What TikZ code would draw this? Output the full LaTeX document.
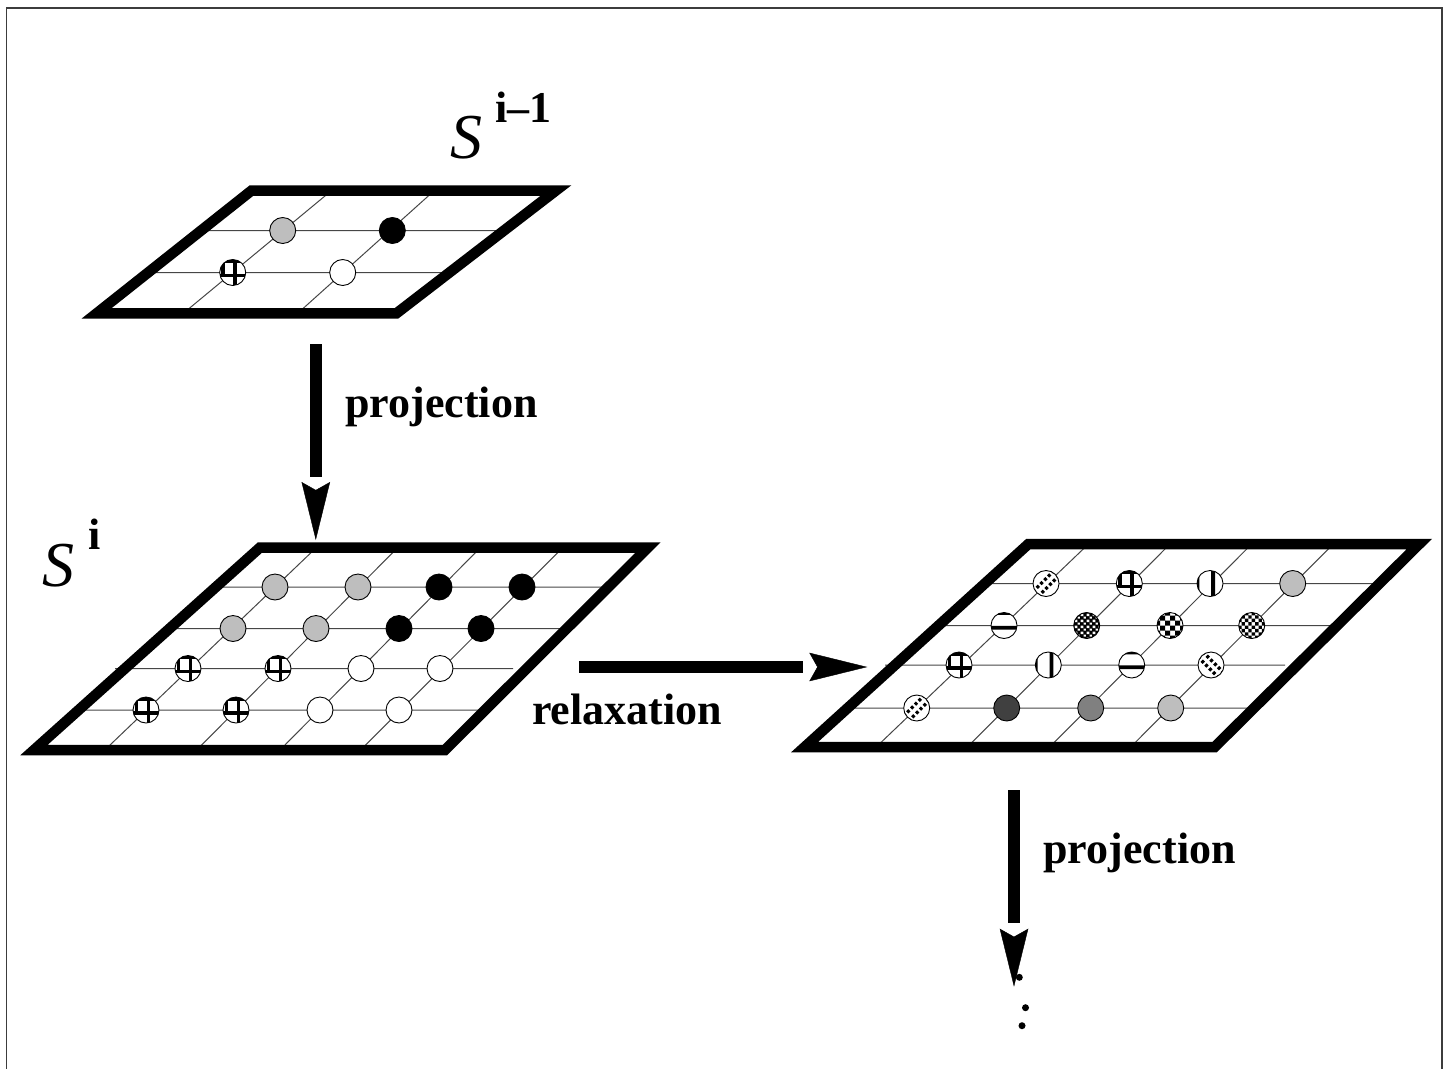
\documentclass[tikz,border=0pt]{standalone}
\usepackage{fontspec}
\setmainfont{Liberation Serif}
\usetikzlibrary{arrows.meta,positioning,calc}
\definecolor{inkBlack}{RGB}{0,0,0}
\definecolor{inkGrid}{RGB}{70,70,70}
\definecolor{inkFrame}{RGB}{60,60,60}
\definecolor{dotLight}{RGB}{190,190,190}
\definecolor{dotMid}{RGB}{128,128,128}
\definecolor{dotDark}{RGB}{64,64,64}

\tikzset{
  frameln/.style={line width=1.5pt, draw=inkFrame},
  sheet/.style={line width=10.5pt, line join=miter, draw=inkBlack},
  gridln/.style={line width=1pt, draw=inkGrid},
  disc/.style={circle, draw=inkBlack, line width=0.9pt, minimum size=26pt, inner sep=0pt, fill=white},
  greydisc/.style={disc, fill=dotLight},
  middisc/.style={disc, fill=dotMid},
  darkdisc/.style={disc, fill=dotDark},
  blackdisc/.style={disc, fill=inkBlack},
  crossdisc/.style={disc, path picture={
      \begin{scope}[shift={(path picture bounding box.center)}]
        \draw[inkBlack, line width=3.6pt] (2.5,-15) -- (2.5,15) (-15,3) -- (15,3)
          (-9.5,-15) -- (-9.5,3) (-15,-11) -- (15,-11);
      \end{scope}}},
  vbardisc/.style={disc, path picture={
      \begin{scope}[shift={(path picture bounding box.center)}]
        \fill[inkBlack] (1.2,-15) rectangle (5,15) (-15,-15) rectangle (-10.6,15);
      \end{scope}}},
  hbardisc/.style={disc, path picture={
      \begin{scope}[shift={(path picture bounding box.center)}]
        \fill[inkBlack] (-15,0.3) rectangle (15,4) (-15,-15) rectangle (15,-10.6);
      \end{scope}}},
  hatchdisc/.style={disc, path picture={
      \begin{scope}[shift={(path picture bounding box.center)}]
        \draw[inkBlack, line width=3.2pt, dash pattern=on 3pt off 2.4pt]
          (-17,12) -- (12,-17) (-12,17) -- (17,-12);
      \end{scope}}},
  bhatchdisc/.style={disc, path picture={
      \begin{scope}[shift={(path picture bounding box.center)}]
        \draw[inkBlack, line width=3.2pt, dash pattern=on 3pt off 2.4pt]
          (-17,-12) -- (12,17) (-12,-17) -- (17,12);
      \end{scope}}},
  checkdisc/.style={disc, path picture={
      \begin{scope}[shift={(path picture bounding box.center)}]
        \foreach \k in {-3,...,2} \foreach \l in {-3,...,2}
          \fill[inkBlack] (\k*2*#1,\l*2*#1) rectangle ++(#1,#1) (\k*2*#1+#1,\l*2*#1+#1) rectangle ++(#1,#1);
      \end{scope}}},
  checkcoarse/.style={checkdisc=5},
  checkfine/.style={checkdisc=3.4},
  densedisc/.style={disc, fill=inkBlack, path picture={
      \begin{scope}[shift={(path picture bounding box.center)}]
        \foreach \k in {-3,...,2} \foreach \l in {-3,...,2}
          \fill[white] (\k*6,\l*6) rectangle ++(2.6,2.6) (\k*6+3,\l*6+3) rectangle ++(2.2,2.2);
      \end{scope}}},
  shaft/.style={line width=11.5pt, draw=inkBlack, shorten >=#1},
  head/.style={line width=0.4pt, draw=inkBlack, -{Stealth[length=58pt, width=28.5pt, inset=8pt]}},
  lbl/.style={inner sep=0pt, anchor=base west, font=\fontsize{44pt}{44pt}\selectfont\bfseries},
  dotmark/.style={circle, fill=inkBlack, minimum size=7pt, inner sep=0pt}
}

\begin{document}
\begin{tikzpicture}[x=1pt,y=-1pt]
  \useasboundingbox (0,0) rectangle (1450,1068);
  \draw[frameln] (6.7,1072) -- (6.7,8) -- (1442,8) -- (1442,1072);

  \draw[gridln] (201.1,230.5) -- (504,230.5) (148.2,272.5) -- (449.5,272.5)
    (331.6,190.5) -- (183.3,313.3) (434.4,190.5) -- (297.7,313.3);
  \foreach \px/\py/\kind/\nm in {282.7/230.5/greydisc/t11, 392.3/230.5/blackdisc/t12,
      232.7/272.5/crossdisc/t21, 342.7/272.5/disc/t22}
    \node[\kind] (\nm) at (\px,\py) {};
  \draw[sheet] (251.6,190.5) -- (556,190.5) -- (396.5,313.3) -- (96.7,313.3) -- cycle;
  \node[inner sep=0pt, anchor=base west] (sprev) at (450,158.3)
    {\fontsize{64pt}{64pt}\selectfont\itshape S\hspace{13pt}\raisebox{35.6pt}{\fontsize{44pt}{44pt}\selectfont\bfseries\upshape i--1}};

  \draw[gridln] (215.9,587) -- (608.4,587) (169.6,628.5) -- (566.8,628.5)
    (115,668.5) -- (513,668.5) (78.6,710) -- (485.1,710)
    (316.4,547.5) -- (104.8,750) (397.8,547.5) -- (196.7,750)
    (480.5,547.5) -- (280,750) (562.8,547.5) -- (360.7,750);
  \foreach \px/\py/\kind/\nm in {275/587/greydisc/m11, 358/587/greydisc/m12, 439/587/blackdisc/m13, 522/587/blackdisc/m14,
      233/628.5/greydisc/m21, 316/628.5/greydisc/m22, 399/628.5/blackdisc/m23, 481/628.5/blackdisc/m24,
      188/668.5/crossdisc/m31, 278/668.5/crossdisc/m32, 361/668.5/disc/m33, 440/668.5/disc/m34,
      146/710/crossdisc/m41, 236/710/crossdisc/m42, 320/710/disc/m43, 399/710/disc/m44}
    \node[\kind] (\nm) at (\px,\py) {};
  \draw[sheet] (260,547.5) -- (648,547.5) -- (445,750) -- (34,750) -- cycle;
  \node[inner sep=0pt, anchor=base west] (scur) at (42,586.7)
    {\fontsize{64pt}{64pt}\selectfont\itshape S\hspace{14pt}\raisebox{37.4pt}{\fontsize{44pt}{44pt}\selectfont\bfseries\upshape i}};

  \draw[gridln] (984.9,583.5) -- (1379.5,583.5) (938.6,625.5) -- (1337.2,625.5)
    (885,665) -- (1285,665) (847.7,708) -- (1254,708)
    (1088.5,544) -- (876.2,747) (1170,544) -- (967.4,747)
    (1251.7,544) -- (1049.7,747) (1333.3,544) -- (1130.7,747);
  \foreach \px/\py/\kind/\nm in {1046/583.5/hatchdisc/r11, 1129.3/583.5/crossdisc/r12, 1210/583.5/vbardisc/r13, 1292.7/583.5/greydisc/r14,
      1004/625.5/hbardisc/r21, 1086.7/625.5/densedisc/r22, 1170/625.5/checkcoarse/r23, 1251.7/625.5/checkfine/r24,
      959/665/crossdisc/r31, 1048.3/665/vbardisc/r32, 1131.7/665/hbardisc/r33, 1211/665/bhatchdisc/r34,
      916.7/708/hatchdisc/r41, 1006.7/708/darkdisc/r42, 1090.7/708/middisc/r43, 1170.7/708/greydisc/r44}
    \node[\kind] (\nm) at (\px,\py) {};
  \draw[sheet] (1028.4,544) -- (1419.3,544) -- (1214.7,747) -- (804.7,747) -- cycle;

  \coordinate (projA) at (315.8,344);
  \coordinate (projAtip) at (315.8,540);
  \draw[shaft=63pt] (projA) -- (projAtip);
  \draw[head] ($(projAtip)+(0,-30)$) -- (projAtip);
  \node[lbl] (projAlbl) at (345,417.3) {projection};

  \coordinate (relax) at (579,667);
  \coordinate (relaxtip) at (867.3,667);
  \draw[shaft=64pt] (relax) -- (relaxtip);
  \draw[head] ($(relaxtip)+(-30,0)$) -- (relaxtip);
  \node[lbl] (relaxlbl) at (532,724) {relaxation};

  \coordinate (projB) at (1014,790);
  \coordinate (projBtip) at (1014,986.7);
  \draw[shaft=64pt] (projB) -- (projBtip);
  \draw[head] ($(projBtip)+(0,-30)$) -- (projBtip);
  \node[lbl] (projBlbl) at (1043.3,863.3) {projection};

  \node[dotmark] (dotA) at (1019.3,977.3) {};
  \node[dotmark] (dotB) at (1025.5,1007.7) {};
  \node[dotmark] (dotC) at (1022,1025.7) {};
\end{tikzpicture}
\end{document}
